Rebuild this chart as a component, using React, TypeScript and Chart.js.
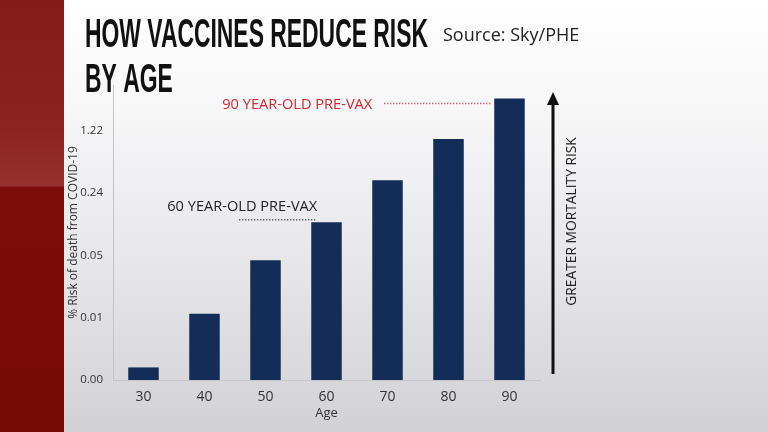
import React, { useEffect, useRef } from "react";
import { Chart, registerables } from "chart.js";

Chart.register(...registerables);

// ---- data ----
const ages = ["30", "40", "50", "60", "70", "80", "90"];
const riskPct = [0.0027, 0.0108, 0.043, 0.115, 0.34, 0.99, 2.83];
const tickValues = [0.00195, 0.00977, 0.0488, 0.244, 1.22];
const tickLabels = ["0.00", "0.01", "0.05", "0.24", "1.22"];
const axisMin = 0.00195;
const axisMax = 4.0;
const titleLines = ["HOW VACCINES REDUCE RISK", "BY AGE"];
const sourceText = "Source: Sky/PHE";
const yTitle = "% Risk of death from COVID-19";
const xTitle = "Age";
const arrowLabel = "GREATER MORTALITY RISK";
const noteLabels = ["60 YEAR-OLD PRE-VAX", "90 YEAR-OLD PRE-VAX"];
const noteBars = [3, 6];

const FONT = "'Open Sans', 'Noto Sans', sans-serif";
const NAVY = "#142d58";
const RED = "#d8262e";
const DARK = "#222222";

const overlay = {
  id: "overlay",
  afterDraw(chart: any) {
    const ctx = chart.ctx as CanvasRenderingContext2D;
    const area = chart.chartArea;
    const meta = chart.getDatasetMeta(0);

    // headline
    ctx.save();
    ctx.fillStyle = "#111111";
    ctx.font = "bold 41px 'Liberation Sans', 'DejaVu Sans', sans-serif";
    ctx.textBaseline = "alphabetic";
    ctx.textAlign = "left";
    const w1 = ctx.measureText(titleLines[0]).width;
    const sx = 343 / w1;
    ctx.save();
    ctx.translate(85, 47);
    ctx.scale(sx, 1);
    ctx.fillText(titleLines[0], 0, 0);
    ctx.restore();
    ctx.save();
    ctx.translate(85, 92);
    ctx.scale(sx, 1);
    ctx.fillText(titleLines[1], 0, 0);
    ctx.restore();

    // source
    ctx.font = `18px ${FONT}`;
    ctx.fillStyle = DARK;
    ctx.textBaseline = "middle";
    ctx.fillText(sourceText, 443, 36);
    ctx.restore();

    // arrow
    const ax = area.right + 13;
    const aBottom = area.bottom - 6;
    const aTop = area.top + 7;
    ctx.save();
    ctx.strokeStyle = "#111111";
    ctx.fillStyle = "#111111";
    ctx.lineWidth = 3;
    ctx.beginPath();
    ctx.moveTo(ax, aBottom);
    ctx.lineTo(ax, aTop + 10);
    ctx.stroke();
    ctx.beginPath();
    ctx.moveTo(ax, aTop);
    ctx.lineTo(ax - 6, aTop + 13);
    ctx.lineTo(ax + 6, aTop + 13);
    ctx.closePath();
    ctx.fill();
    ctx.translate(ax + 19, (area.top + area.bottom) / 2 - 11);
    ctx.rotate(-Math.PI / 2);
    ctx.font = `13.8px ${FONT}`;
    ctx.fillStyle = DARK;
    ctx.textAlign = "center";
    ctx.textBaseline = "middle";
    ctx.fillText(arrowLabel, 0, 0);
    ctx.restore();

    // annotations
    ctx.save();
    ctx.font = `14.6px ${FONT}`;
    ctx.textBaseline = "middle";
    ctx.textAlign = "right";
    // 60 year-old
    {
      const bar = meta.data[noteBars[0]];
      const left = bar.x - bar.width / 2;
      const y = bar.y - 2.5;
      ctx.strokeStyle = "#333333";
      ctx.lineWidth = 1.5;
      ctx.setLineDash([1, 2]);
      ctx.beginPath();
      ctx.moveTo(left - 72, y);
      ctx.lineTo(left + 6, y);
      ctx.stroke();
      ctx.fillStyle = DARK;
      ctx.fillText(noteLabels[0], left + 6, y - 13);
    }
    // 90 year-old
    {
      const bar = meta.data[noteBars[1]];
      const left = bar.x - bar.width / 2;
      const y = bar.y + 5;
      ctx.strokeStyle = RED;
      ctx.lineWidth = 1.5;
      ctx.setLineDash([1, 2]);
      ctx.beginPath();
      ctx.moveTo(left - 110, y);
      ctx.lineTo(left - 3, y);
      ctx.stroke();
      ctx.fillStyle = RED;
      ctx.fillText(noteLabels[1], left - 122, y + 1);
    }
    ctx.restore();
  },
};

export default function App() {
  const ref = useRef<HTMLCanvasElement>(null);

  useEffect(() => {
    if (!ref.current) return;
    const chart = new Chart(ref.current, {
      type: "bar",
      data: {
        labels: ages,
        datasets: [
          {
            data: riskPct,
            backgroundColor: NAVY,
            barPercentage: 0.5,
            categoryPercentage: 1.0,
          },
        ],
      },
      options: {
        responsive: false,
        animation: false,
        devicePixelRatio: 1,
        layout: { padding: { left: 62, right: 228, top: 85, bottom: 7 } },
        plugins: { legend: { display: false }, tooltip: { enabled: false } },
        scales: {
          x: {
            type: "category",
            border: { display: true, color: "#c4c4c8", width: 1 },
            grid: { display: false, drawTicks: false },
            ticks: { padding: 9, color: "#333333", font: { size: 14, family: FONT } },
            title: {
              display: true,
              text: xTitle,
              color: "#333333",
              font: { size: 13, family: FONT },
              padding: { top: 4, bottom: 4 },
            },
            afterFit: (s: any) => {
              s.height = 45;
            },
          },
          y: {
            type: "logarithmic",
            min: axisMin,
            max: axisMax,
            border: { display: true, color: "#c4c4c8", width: 1 },
            grid: { display: false, drawTicks: false },
            afterBuildTicks: (s: any) => {
              s.ticks = tickValues.map((v) => ({ value: v }));
            },
            ticks: {
              autoSkip: false,
              padding: 10,
              color: "#333333",
              font: { size: 11.5, family: FONT },
              callback: (_v: any, i: number) => tickLabels[i],
            },
            title: {
              display: true,
              text: yTitle,
              color: "#333333",
              font: { size: 12, family: FONT },
              padding: { top: 4, bottom: 4 },
            },
            afterFit: (s: any) => {
              s.width = 51;
            },
          },
        },
      } as any,
      plugins: [overlay],
    });
    return () => chart.destroy();
  }, []);

  return (
    <div
      style={{
        position: "fixed",
        left: 0,
        top: 0,
        width: 768,
        height: 432,
        overflow: "hidden",
        background:
          "linear-gradient(to bottom, #ffffff 0%, #f7f7f8 25%, #e7e7ea 60%, #d2d2d6 100%)",
      }}
    >
      <div
        style={{
          position: "absolute",
          left: 0,
          top: 0,
          width: 64,
          height: 432,
          background:
            "linear-gradient(to bottom, #851b19 0%, #8c2321 30%, #953230 43%, #7c0c0a 43.4%, #780a08 100%)",
        }}
      />
      <canvas
        ref={ref}
        width={768}
        height={432}
        style={{ position: "absolute", left: 0, top: 0, width: 768, height: 432 }}
      />
    </div>
  );
}
